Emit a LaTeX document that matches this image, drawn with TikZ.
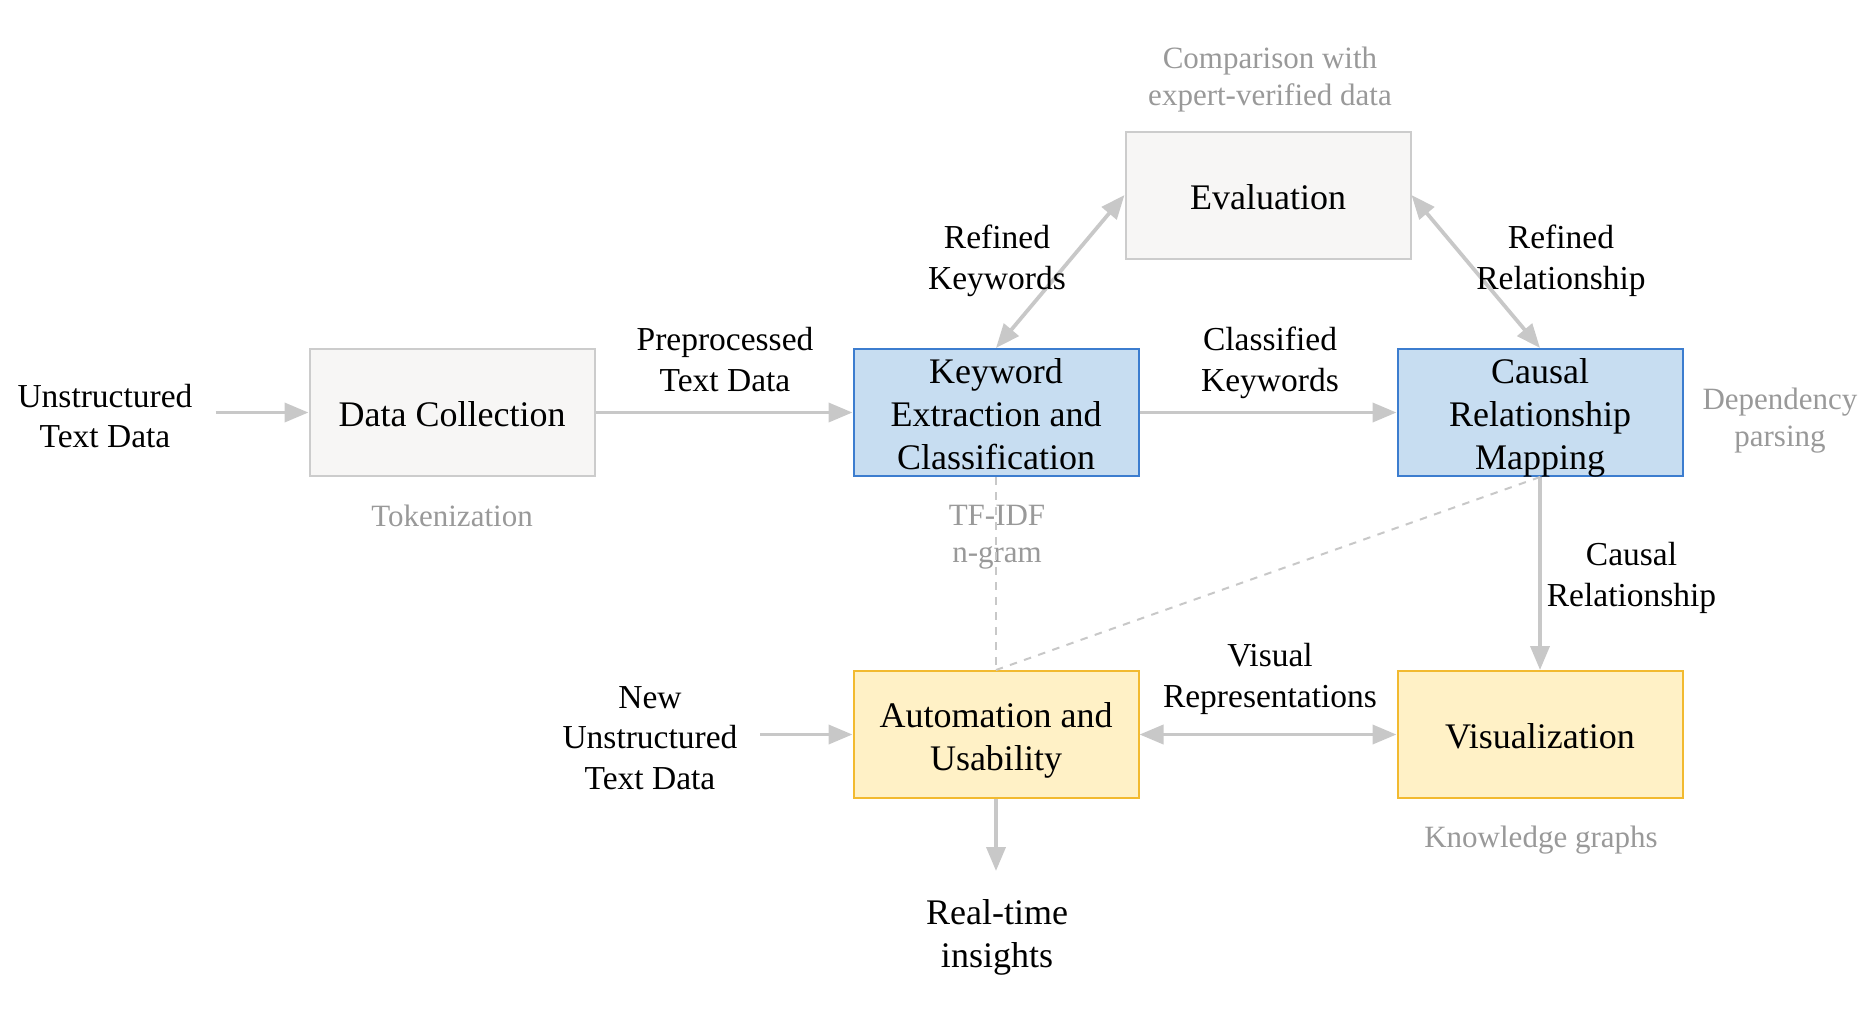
\documentclass[tikz,border=0pt]{standalone}
\usepackage{fontspec}
\setmainfont{Liberation Serif}
\usetikzlibrary{arrows.meta}
\definecolor{greyfill}{HTML}{F7F6F5}
\definecolor{greyline}{HTML}{CCCCCC}
\definecolor{bluefill}{HTML}{C7DDF1}
\definecolor{blueline}{HTML}{3C7DCF}
\definecolor{yelfill}{HTML}{FFF1C6}
\definecolor{yelline}{HTML}{F2BA30}
\definecolor{arrowcol}{HTML}{C8C8C8}
\definecolor{notecol}{HTML}{999999}
\tikzset{
  box/.style={rectangle, draw, line width=0.8pt, minimum width=114pt, minimum height=50.8pt,
    inner sep=0pt, align=center, font=\fontsize{14.4}{17.2}\selectfont, text depth=0pt},
  one/.style={text height=11.4pt},
  two/.style={text height=28.6pt},
  three/.style={text height=45.8pt},
  greybox/.style={box, fill=greyfill, draw=greyline},
  bluebox/.style={box, fill=bluefill, draw=blueline},
  yelbox/.style={box, fill=yelfill, draw=yelline},
  lbl/.style={align=center, inner sep=0pt, font=\fontsize{13.4}{16.3}\selectfont},
  bigl/.style={align=center, inner sep=0pt, font=\fontsize{14.4}{17.2}\selectfont},
  note/.style={align=center, inner sep=0pt, text=notecol, font=\fontsize{12.4}{14.8}\selectfont},
  conn/.style={draw=arrowcol, line width=1.5pt, -{Triangle[length=9.6pt,width=7.6pt]}},
  dconn/.style={draw=arrowcol, line width=1.5pt, {Triangle[length=9.6pt,width=7.6pt]}-{Triangle[length=9.6pt,width=7.6pt]}},
  dash line/.style={draw=arrowcol, line width=0.8pt, dashed}
}
\begin{document}
\begin{tikzpicture}[x=0.4pt,y=-0.4pt]
\useasboundingbox (0,0) rectangle (1873,1015);
% boxes
\node[greybox, one] (dc) at (452,412.5) {Data Collection};
\node[bluebox, three] (kw) at (996,412.5) {Keyword\\Extraction and\\Classification};
\node[bluebox, three] (cr) at (1540,412.5) {Causal\\Relationship\\Mapping};
\node[greybox, one] (ev) at (1268,195) {Evaluation};
\node[yelbox, two] (au) at (996,734.5) {Automation and\\Usability};
\node[yelbox, one] (vi) at (1540,734.5) {Visualization};
% free texts
\node[lbl] (ut) at (105,416) {Unstructured\\Text Data};
\node[lbl] (nut) at (650,738) {New\\Unstructured\\Text Data};
\node[bigl] (rt) at (997,937.5) {Real-time\\insights};
\coordinate (utend) at (215.5,412.5);
\coordinate (nutend) at (760,734.5);
\coordinate (rtend) at (996,871);
% notes
\node[note] (tok) at (452,516) {Tokenization};
\node[note] (tfidf) at (997,537) {TF-IDF\\n-gram};
\node[note] (dep) at (1780,421) {Dependency\\parsing};
\node[note] (cmp) at (1270,79.5) {Comparison with\\expert-verified data};
\node[note] (kg) at (1541,840) {Knowledge graphs};
% dashed
\draw[dash line] (kw.south) -- (au.north);
\draw[dash line] (cr.south) -- (au.north);
% connectors
\draw[conn] (utend) -- (dc.west);
\draw[conn] (dc.east) -- (kw.west);
\node[lbl] (ppl) at (725,359.5) {Preprocessed\\Text Data};
\draw[conn] (kw.east) -- (cr.west);
\node[lbl] (ckl) at (1270,363) {Classified\\Keywords};
\draw[dconn] (kw.north) -- (ev.west);
\node[lbl] (rk) at (997,261) {Refined\\Keywords};
\draw[dconn] (ev.east) -- (cr.north);
\node[lbl] (rr) at (1561,261) {Refined\\Relationship};
\draw[conn] (cr.south) -- (vi.north);
\node[lbl] (crl) at (1631.5,578) {Causal\\Relationship};
\draw[dconn] (au.east) -- (vi.west);
\node[lbl] (vrl) at (1270,679) {Visual\\Representations};
\draw[conn] (nutend) -- (au.west);
\draw[conn] (au.south) -- (rtend);
\end{tikzpicture}
\end{document}
